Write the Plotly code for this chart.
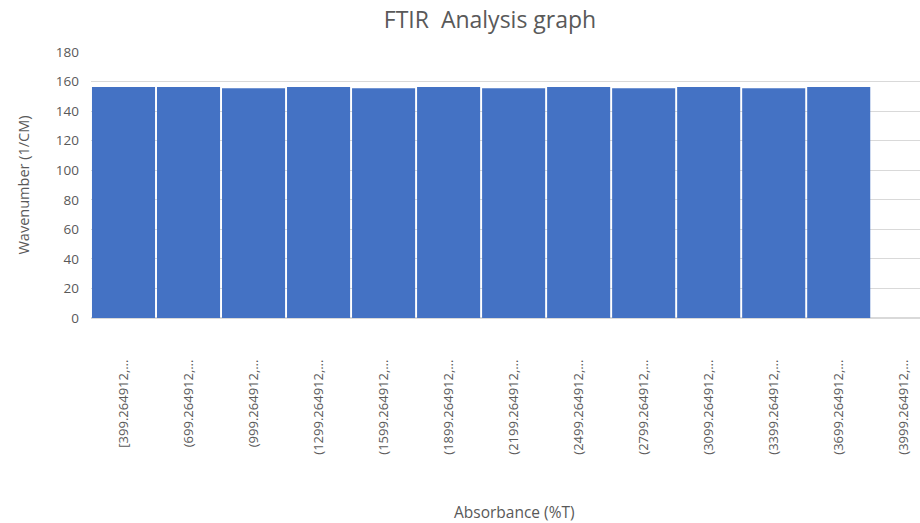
import plotly.graph_objects as go

categories = ["[399.264912,…", "(699.264912,…", "(999.264912,…", "(1299.264912,…",
              "(1599.264912,…", "(1899.264912,…", "(2199.264912,…", "(2499.264912,…",
              "(2799.264912,…", "(3099.264912,…", "(3399.264912,…", "(3699.264912,…",
              "(3999.264912,…"]
values = [156.3, 156.3, 155.4, 156.3, 155.4, 156.3, 155.4, 156.3, 155.4, 156.3, 155.4, 156.3, None]
y_ticks = [0, 20, 40, 60, 80, 100, 120, 140, 160, 180]

gray = "#595959"
fig = go.Figure(go.Bar(x=categories, y=values, marker=dict(color="#4472C4", line=dict(width=0))))

W, H = 920, 523
fig.update_layout(
    width=W, height=H,
    margin=dict(l=91, r=0, t=52, b=205, autoexpand=False),
    paper_bgcolor="white", plot_bgcolor="white",
    bargap=0.03,
    showlegend=False,
    font=dict(family="Open Sans", color=gray),
    title=dict(text="FTIR  Analysis graph", x=490 / W, xanchor="center", y=1 - 20 / H, yanchor="middle",
               font=dict(size=23, color=gray)),
    xaxis=dict(range=[-0.5, 12.25], tickangle=-90, tickfont=dict(size=13, color=gray),
               showgrid=False, showline=False, ticks="", ticklabelstandoff=38, automargin=False),
    yaxis=dict(range=[0, 180], tickvals=y_ticks, showgrid=True, gridcolor="#d9d9d9", gridwidth=1,
               zeroline=True, zerolinecolor="#d9d9d9", showline=False, ticks="", automargin=False,
               tickfont=dict(size=13.5, color=gray), ticklabelstandoff=11,
               title=dict(text="Wavenumber (1/CM)", font=dict(size=14.5, color=gray), standoff=22)),
    annotations=[dict(text="Absorbance (%T)", xref="paper", yref="paper",
                      x=(514 - 91) / (W - 91), y=-(512 - 318) / (318 - 52),
                      xanchor="center", yanchor="middle", showarrow=False,
                      font=dict(size=15.5, color=gray))],
)

fig.write_html("out.html", config={"displayModeBar": False},
               post_script="document.body.style.margin='0';document.body.style.overflow='hidden';")
